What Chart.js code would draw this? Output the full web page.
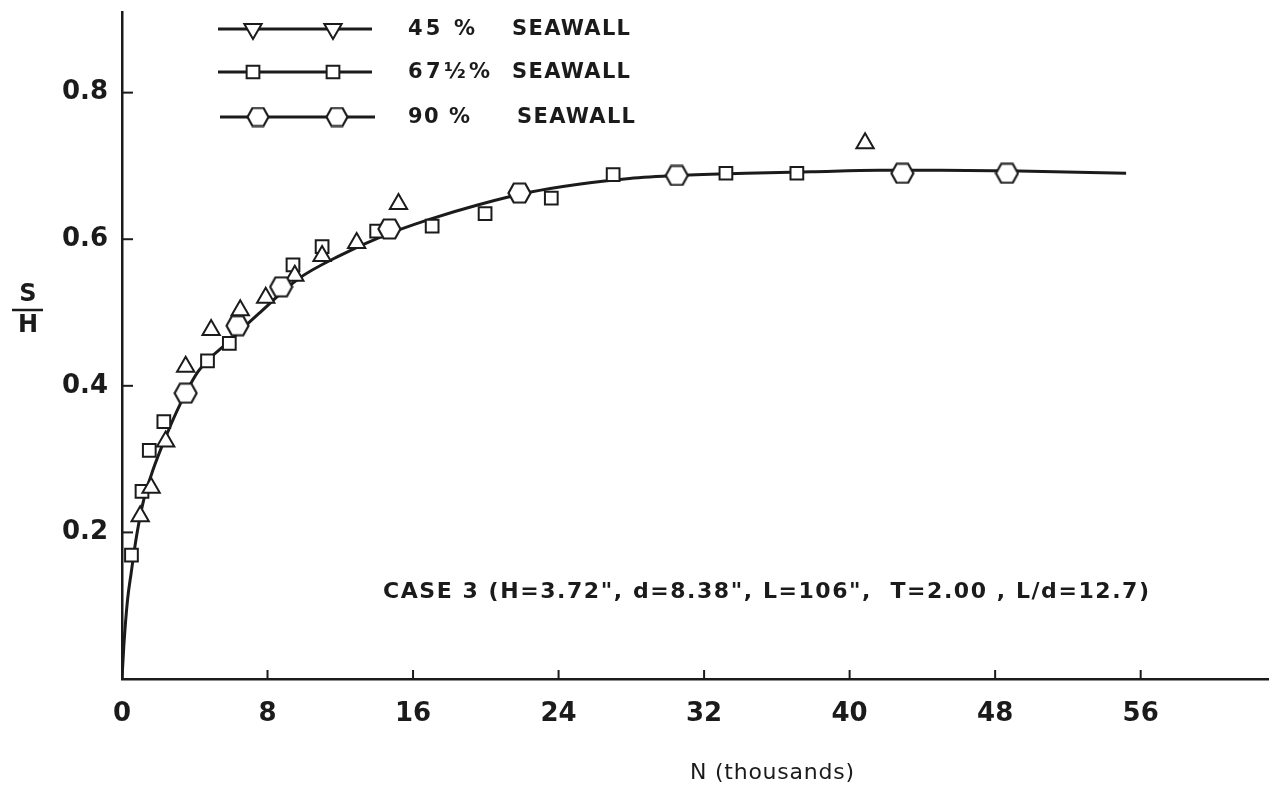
<!DOCTYPE html>
<html>
<head>
<meta charset="utf-8">
<script src="https://cdn.jsdelivr.net/npm/chart.js@4/dist/chart.umd.min.js"></script>
<style>
html, body { margin: 0; padding: 0; background: #fff; }
</style>
</head>
<body>
<canvas id="grafica" width="1284" height="789"></canvas>
<script>
// datos (N en miles, S/H)
var tri45_x = [1.0, 1.6, 2.4, 3.5, 4.9, 6.5, 7.9, 9.5, 11.0, 12.9, 15.2, 40.85];
var tri45_y = [0.222, 0.261, 0.324, 0.426, 0.476, 0.503, 0.520, 0.550, 0.577, 0.595, 0.648, 0.731];

var cua67_x = [0.52, 1.1, 1.5, 2.3, 4.7, 5.9, 9.4, 11.0, 14.0, 17.05, 19.96, 23.6, 27.0, 33.2, 37.1];
var cua67_y = [0.169, 0.256, 0.312, 0.351, 0.434, 0.458, 0.565, 0.590, 0.611, 0.618, 0.635, 0.656, 0.688, 0.690, 0.690];

var hex90_x = [3.5, 6.35, 8.75, 14.7, 21.85, 30.5, 42.9, 48.65];
var hex90_y = [0.390, 0.482, 0.535, 0.614, 0.663, 0.687, 0.690, 0.690];

var curva_x = [0, 0.1, 0.3, 0.5, 0.8, 1.2, 1.7, 2.4, 3.2, 4.2, 5.9, 7.5, 9.7, 12.0, 14.2, 16.9, 19.6, 22.4, 25.1, 27.9, 30.6, 34.3, 37.9, 41.6, 45.0, 49.3, 55.2];
var curva_y = [0, 0.045, 0.107, 0.144, 0.195, 0.245, 0.285, 0.33, 0.375, 0.42, 0.461, 0.498, 0.546, 0.578, 0.603, 0.627, 0.647, 0.664, 0.675, 0.683, 0.687, 0.690, 0.692, 0.694, 0.694, 0.693, 0.690];

var ticks_x = [0, 8, 16, 24, 32, 40, 48, 56];
var ticks_y = [0, 0.2, 0.4, 0.6, 0.8];

var etiquetas_pct = ['45 %', '67\u00BD%', '90 %'];
var etiqueta_muro = 'SEAWALL';
var titulo_x = 'N (thousands)';
var texto_caso = 'CASE 3 (H=3.72", d=8.38", L=106",  T=2.00 , L/d=12.7)';

/*******************************************************************************
 * Utilidades
 *******************************************************************************/

var tinta = '#1b1b1b';
var fuente = '"DejaVu Sans", sans-serif';

function juntaPuntos(xs, ys)
{
	var puntos = [];
	for (var i = 0; i < xs.length; i++) puntos.push({x: xs[i], y: ys[i]});
	return puntos;
}

function hexagono(ancho, alto)
{
	var c = document.createElement('canvas');
	c.width = ancho;
	c.height = alto;
	var ctx = c.getContext('2d');
	var m = 1.5;
	ctx.beginPath();
	ctx.moveTo(m, alto / 2);
	ctx.lineTo(ancho * 0.27, m);
	ctx.lineTo(ancho * 0.73, m);
	ctx.lineTo(ancho - m, alto / 2);
	ctx.lineTo(ancho * 0.73, alto - m);
	ctx.lineTo(ancho * 0.27, alto - m);
	ctx.closePath();
	ctx.fillStyle = '#fff';
	ctx.fill();
	ctx.lineWidth = 2.2;
	ctx.strokeStyle = tinta;
	ctx.stroke();
	return c;
}

function textoAjustado(ctx, texto, x, y, ancho)
{
	ctx.letterSpacing = '0px';
	var w = ctx.measureText(texto).width;
	var esp = (ancho - w) / Math.max(texto.length - 1, 1);
	ctx.letterSpacing = esp + 'px';
	ctx.fillText(texto, x, y);
	ctx.letterSpacing = '0px';
}

var img_hex = hexagono(25, 22);
var img_hex_leyenda = hexagono(24, 21);

/*******************************************************************************
 * Plugin: marcas interiores, leyenda, rotulos
 *******************************************************************************/

var decoracion = {
	id: 'decoracion',
	afterDraw: function (chart)
	{
		var ctx = chart.ctx;
		var area = chart.chartArea;
		var sx = chart.scales.x;
		var sy = chart.scales.y;
		ctx.save();

		// marcas de los ejes hacia dentro
		ctx.strokeStyle = tinta;
		ctx.lineWidth = 2;
		ticks_x.forEach(function (v) {
			if (v === 0) return;
			var px = sx.getPixelForValue(v);
			ctx.beginPath();
			ctx.moveTo(px, area.bottom);
			ctx.lineTo(px, area.bottom - 9);
			ctx.stroke();
		});
		ticks_y.forEach(function (v) {
			if (v === 0) return;
			var py = sy.getPixelForValue(v);
			ctx.beginPath();
			ctx.moveTo(area.left, py);
			ctx.lineTo(area.left + 11, py);
			ctx.stroke();
		});

		// leyenda
		var filas = [
			{y: 29, x1: 218, x2: 372, marcas: [253, 333], estilo: 'triangle', rot: 180, r: 10, txt: 512},
			{y: 72, x1: 218, x2: 372, marcas: [253, 333], estilo: 'rect', rot: 0, r: 9, txt: 512},
			{y: 117, x1: 220, x2: 375, marcas: [258, 337], estilo: img_hex_leyenda, rot: 0, r: 10, txt: 517}
		];
		var anchos_pct = [67, 82, 62];
		filas.forEach(function (f, i) {
			ctx.strokeStyle = tinta;
			ctx.lineWidth = 3;
			ctx.beginPath();
			ctx.moveTo(f.x1, f.y);
			ctx.lineTo(f.x2, f.y);
			ctx.stroke();
			ctx.lineWidth = 2;
			ctx.fillStyle = '#fff';
			f.marcas.forEach(function (mx) {
				Chart.helpers.drawPoint(ctx, {pointStyle: f.estilo, rotation: f.rot, radius: f.r, borderWidth: 2}, mx, f.y);
			});
			ctx.fillStyle = tinta;
			ctx.font = 'bold 21px ' + fuente;
			ctx.textAlign = 'left';
			ctx.textBaseline = 'middle';
			textoAjustado(ctx, etiquetas_pct[i], 408, f.y + 1, anchos_pct[i]);
			textoAjustado(ctx, etiqueta_muro, f.txt, f.y + 1, 118);
		});

		// rotulo del eje y: S sobre H
		ctx.fillStyle = tinta;
		ctx.font = 'bold 24px ' + fuente;
		ctx.textAlign = 'center';
		ctx.textBaseline = 'middle';
		ctx.fillText('S', 28, 295);
		ctx.fillText('H', 28, 326);
		ctx.lineWidth = 2.5;
		ctx.beginPath();
		ctx.moveTo(12, 310);
		ctx.lineTo(43, 310);
		ctx.stroke();

		// texto del caso
		ctx.font = 'bold 22px ' + fuente;
		ctx.textAlign = 'left';
		textoAjustado(ctx, texto_caso, 383, 592, 766);

		// titulo del eje x
		ctx.font = '22px ' + fuente;
		textoAjustado(ctx, titulo_x, 690, 773, 164);

		ctx.restore();
	}
};

/*******************************************************************************
 * Grafica
 *******************************************************************************/

var contexto = document.getElementById('grafica').getContext('2d');

var grafica = new Chart(contexto, {
	type: 'scatter',
	data: {
		datasets: [{
			label: '45 % SEAWALL',
			data: juntaPuntos(tri45_x, tri45_y),
			pointStyle: 'triangle',
			pointRadius: 10,
			pointBorderWidth: 2,
			pointBackgroundColor: '#fff',
			pointBorderColor: tinta,
			order: 1
		}, {
			label: '67\u00BD% SEAWALL',
			data: juntaPuntos(cua67_x, cua67_y),
			pointStyle: 'rect',
			pointRadius: 9,
			pointBorderWidth: 2,
			pointBackgroundColor: '#fff',
			pointBorderColor: tinta,
			order: 1
		}, {
			label: '90 % SEAWALL',
			data: juntaPuntos(hex90_x, hex90_y),
			pointStyle: img_hex,
			pointRadius: 11,
			order: 0
		}, {
			label: 'curva',
			data: juntaPuntos(curva_x, curva_y),
			showLine: true,
			borderColor: tinta,
			borderWidth: 3,
			pointRadius: 0,
			cubicInterpolationMode: 'monotone',
			order: 5
		}]
	},
	options: {
		responsive: false,
		animation: false,
		devicePixelRatio: 1,
		layout: {
			padding: {top: 12, right: 16, left: 0, bottom: 0}
		},
		plugins: {
			legend: {display: false},
			tooltip: {enabled: false}
		},
		scales: {
			x: {
				type: 'linear',
				min: 0,
				max: 63,
				afterBuildTicks: function (escala) {
					escala.ticks = ticks_x.map(function (v) { return {value: v}; });
				},
				afterFit: function (escala) {
					escala.height = 110;
					escala.paddingLeft = 0;
					escala.paddingRight = 0;
				},
				grid: {display: false, drawTicks: false},
				border: {display: true, color: tinta, width: 2.5},
				ticks: {
					color: tinta,
					font: {family: fuente, size: 26, weight: 'bold'},
					padding: 20,
					maxRotation: 0,
					callback: function (v) { return String(v); }
				}
			},
			y: {
				type: 'linear',
				min: 0,
				max: 0.91,
				afterBuildTicks: function (escala) {
					escala.ticks = ticks_y.map(function (v) { return {value: v}; });
				},
				afterFit: function (escala) {
					escala.width = 122;
					escala.paddingTop = 0;
					escala.paddingBottom = 0;
				},
				grid: {display: false, drawTicks: false},
				border: {display: true, color: tinta, width: 2.5},
				ticks: {
					color: tinta,
					font: {family: fuente, size: 26, weight: 'bold'},
					padding: 14,
					callback: function (v) { return v === 0 ? '' : v.toFixed(1); }
				}
			}
		}
	},
	plugins: [decoracion]
});
</script>
</body>
</html>
